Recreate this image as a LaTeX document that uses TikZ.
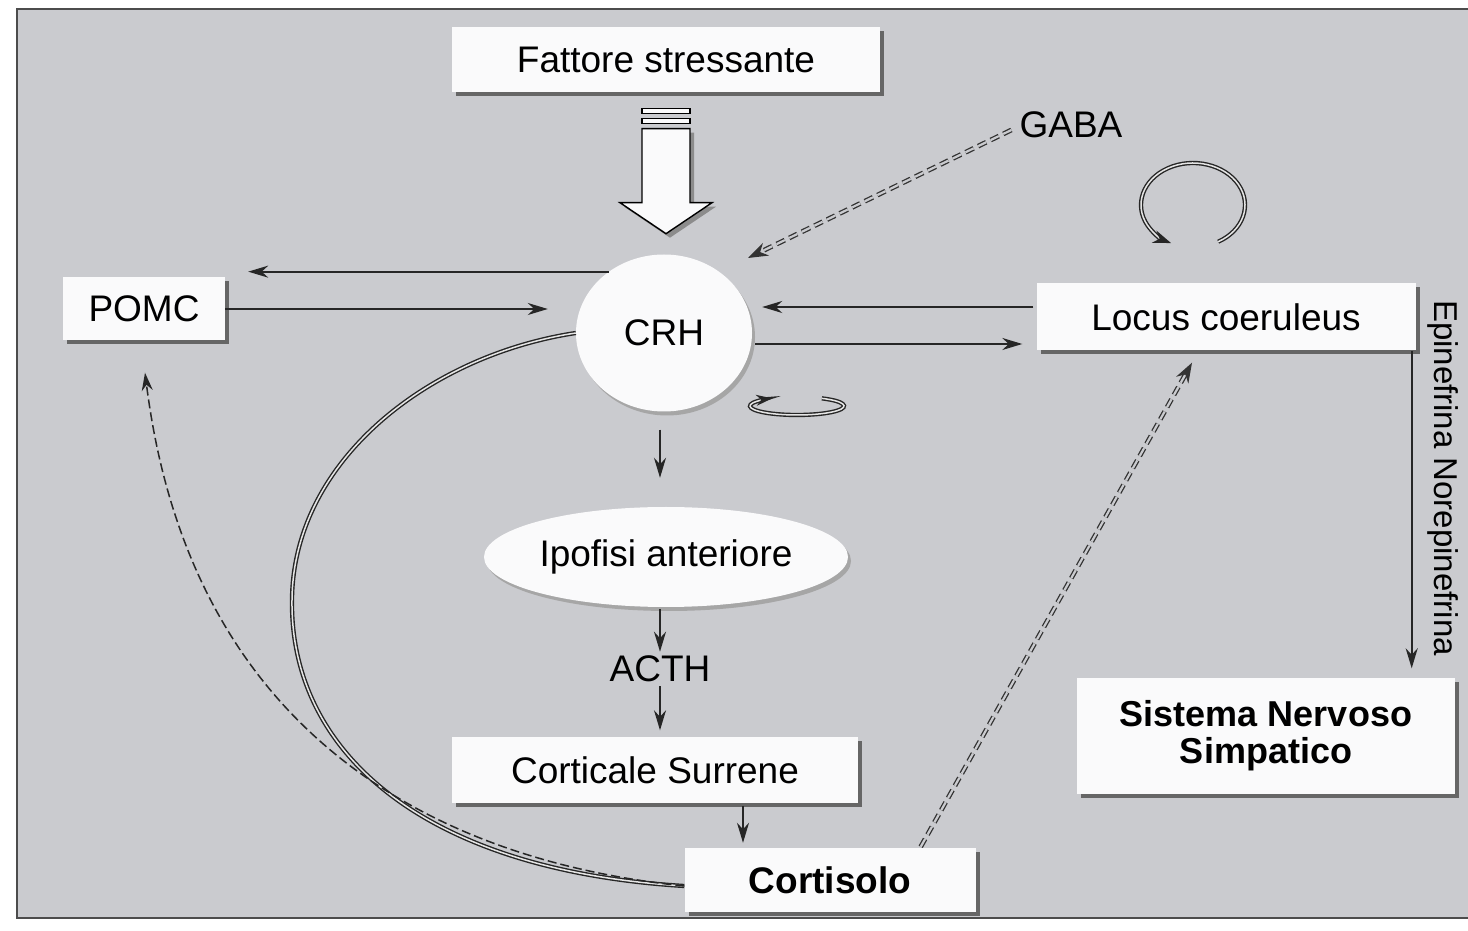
\documentclass[tikz,border=0pt]{standalone}
\usepackage{fontspec}
\setmainfont{Liberation Sans}
\usetikzlibrary{shapes.geometric,shadows,arrows.meta,calc}
\definecolor{bggray}{RGB}{202,203,207}
\definecolor{boxwhite}{RGB}{250,250,251}
\tikzset{
  shadowed/.style={drop shadow={shadow xshift=4pt,shadow yshift=-4pt,opacity=1,fill=black!60}},
  box/.style={fill=boxwhite,inner sep=0pt,shadowed,font=\fontsize{37}{40}\selectfont},
  roundbox/.style={ellipse,fill=boxwhite,inner sep=0pt,
    drop shadow={shadow xshift=3pt,shadow yshift=-4pt,opacity=1,fill=black!35},
    font=\fontsize{37}{40}\selectfont},
  lbl/.style={inner sep=4pt,font=\fontsize{37}{40}\selectfont},
  link/.style={draw=black!85,line width=2pt,-{Stealth[length=20pt,width=12pt]}},
  dlink/.style={draw=black!80,line width=1.3pt,double=bggray,double distance=2.2pt,
    dash pattern=on 9pt off 5pt,-{Stealth[length=20pt,width=14pt]}},
  feedback/.style={draw=black!85,line width=1.5pt,dash pattern=on 9pt off 4pt,
    -{Stealth[length=18pt,width=11pt]}},
  twinline/.style={draw=black!85,line width=1.4pt,double=white!80!gray,double distance=1.5pt},
}
\begin{document}
\begin{tikzpicture}[x=1pt,y=1pt]
\useasboundingbox (0,0) rectangle (1468,930);
% background and frame
\fill[white] (0,0) rectangle (1468,930);
\draw[line width=2pt,black!70,fill=bggray] (17,12) rectangle (1490,921);

% boxes and ellipses
\node[box,minimum width=428pt,minimum height=65pt] (Fattore) at (666,870) {Fattore stressante};
\node[roundbox,minimum width=176pt,minimum height=157pt] (CRH) at (664,597) {\raisebox{-7pt}{CRH}};
\node[box,minimum width=162pt,minimum height=63pt] (POMC) at (144,621) {POMC};
\node[box,minimum width=379pt,minimum height=67pt] (Locus) at (1226,613) {Locus coeruleus};
\node[roundbox,minimum width=364pt,minimum height=100pt] (Ipofisi) at (666,373) {Ipofisi anteriore};
\node[lbl] (ACTH) at (660,261) {ACTH};
\node[box,minimum width=406pt,minimum height=65pt] (Corticale) at (655,160) {Corticale Surrene};
\node[box,minimum width=291pt,minimum height=64pt,font=\fontsize{37}{40}\selectfont\bfseries] (Cortisolo) at (830,50) {Cortisolo};
\node[box,minimum width=378pt,minimum height=115pt,align=center,
  font=\fontsize{36}{37}\selectfont\bfseries] (Sistema) at (1266,194) {Sistema Nervoso\\Simpatico};
\node[lbl] (GABA) at (1071,805) {GABA};
\node[lbl,rotate=-90,font=\fontsize{33}{36}\selectfont] (EpiLabel) at (1443,452) {Epinefrina Norepinefrina};

% hollow stress arrow
\begin{scope}[shift={(Fattore.south)}]
  \fill[black!45] (-20,-40) -- (28,-40) -- (28,-114) -- (50,-114) -- (4,-145) -- (-42,-114) -- (-20,-114) -- cycle;
  \draw[line width=1.4pt,fill=boxwhite] (-24,-16) rectangle (24,-21);
  \draw[line width=1.4pt,fill=boxwhite] (-24,-26) rectangle (24,-31);
  \draw[line width=1.4pt,fill=boxwhite] (-24,-36) -- (24,-36) -- (24,-110) -- (46,-110)
    -- (0,-141) -- (-46,-110) -- (-24,-110) -- cycle;
\end{scope}

% horizontal connectors
\draw[link] (CRH.132) -- ($(POMC.east |- CRH.132)+(23,0)$);
\draw[link] (POMC.east) -- ($(CRH.west |- POMC.east)+(-28,0)$);
\draw[link] ($(Locus.west)+(-3,10)$) -- ($(CRH.east)+(10,26)$);
\draw[link] ($(CRH.east)+(3,-11)$) -- ($(Locus.west)+(-14,-27)$);

% vertical chain
\draw[link] ($(CRH.south)+(-4,-18)$) -- ($(Ipofisi.north)+(-6,29)$);
\draw[link] ($(Ipofisi.south)+(-6,-2)$) -- (ACTH.north);
\draw[link] (ACTH.south) -- ($(Corticale.north)+(5,7)$);
\draw[link] ($(Corticale.south)+(88,-3)$) -- ($(Cortisolo.north)+(-87,5)$);
\draw[link] ($(Locus.south east)+(-4,0)$) -- ($(Locus.east |- Sistema.north)+(-4,10)$);

% GABA and cortisol feedback
\draw[dlink] ($(GABA.west)+(-4,-5)$) -- ($(CRH.center)+(84,75)$);
\draw[dlink] ($(Cortisolo.north east)+(-55,1)$) -- ($(Locus.south)+(-34,-12)$);
\draw[twinline] ($(Cortisolo.west)+(0,-6)$) .. controls (420,60) and (290,180) .. (292,330)
  .. controls (293,470) and (430,575) .. (CRH.west);
\draw[feedback] ($(Cortisolo.west)+(0,-6)$) .. controls (430,70) and (190,200) .. ($(POMC.south)+(1,-32)$);

% self loops
\coordinate (LCloop) at (1193,725);
\coordinate (CRHloop) at (797,524);
\draw[twinline,-{Stealth[length=18pt,width=13pt]}] ($(LCloop)+(-61:52pt and 42pt)$)
  arc[start angle=-61,end angle=245,x radius=52pt,y radius=42pt];
\draw[twinline,-{Stealth[length=16pt,width=11pt]}] ($(CRHloop)+(58:47pt and 9pt)$)
  arc[start angle=58,end angle=-238,x radius=47pt,y radius=9pt];
\end{tikzpicture}
\end{document}
